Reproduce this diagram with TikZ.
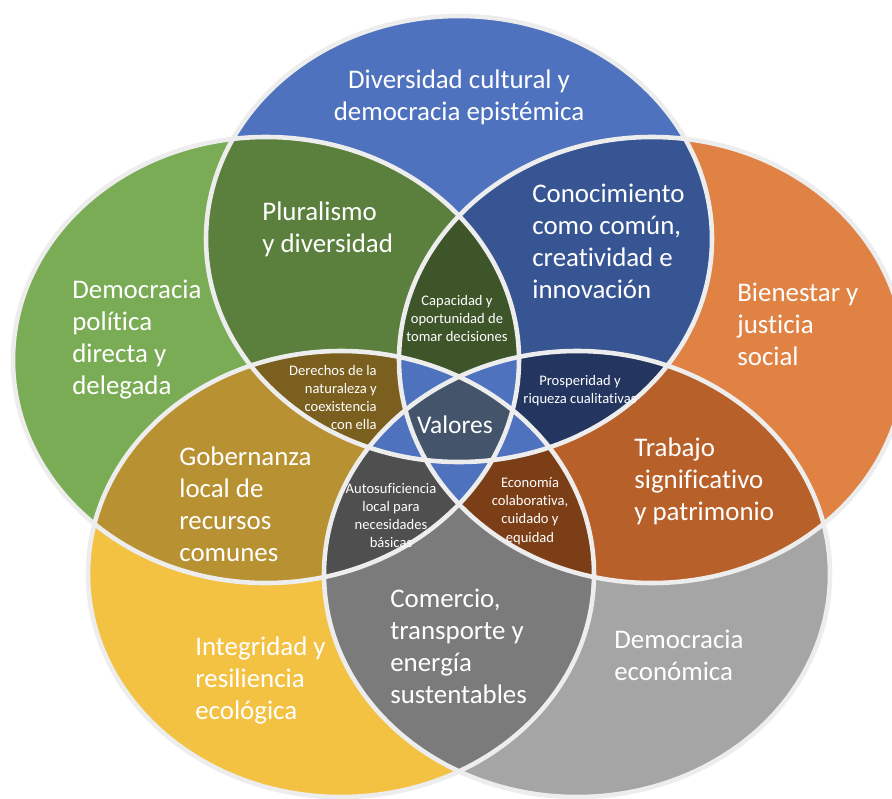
\documentclass[tikz,border=0pt]{standalone}
\usepackage{fontspec}
\setmainfont{Carlito}[Ligatures=NoCommon]
\usepackage{tikz}

\definecolor{cBlue}{HTML}{4E72BE}
\definecolor{cGreen}{HTML}{7AAB55}
\definecolor{cOrange}{HTML}{DF8244}
\definecolor{cYellow}{HTML}{F3C243}
\definecolor{cGrey}{HTML}{A5A5A5}
\definecolor{cBlueGreen}{HTML}{5B7F3D}
\definecolor{cBlueOrange}{HTML}{385593}
\definecolor{cOrangeGrey}{HTML}{B8602A}
\definecolor{cGreyYellow}{HTML}{7B7B7B}
\definecolor{cYellowGreen}{HTML}{B89232}
\definecolor{cCapacidad}{HTML}{3E5429}
\definecolor{cProsperidad}{HTML}{243660}
\definecolor{cEconomia}{HTML}{7B3E17}
\definecolor{cAuto}{HTML}{4F4F4F}
\definecolor{cDerechos}{HTML}{7A5F1E}
\definecolor{cValores}{HTML}{44546A}
\definecolor{cLine}{HTML}{EDEDED}

\def\ellBlue{(459,239) ellipse [x radius=253, y radius=223]}
\def\ellGreen{(266,360) ellipse [x radius=253, y radius=223]}
\def\ellOrange{(652,360) ellipse [x radius=253, y radius=223]}
\def\ellYellow{(341,574) ellipse [x radius=253, y radius=223]}
\def\ellGrey{(577,574) ellipse [x radius=253, y radius=223]}

\tikzset{
  bigtxt/.style={text=white, inner sep=0pt, font=\fontsize{15.3}{18.2}\selectfont},
  smalltxt/.style={text=white, inner sep=0pt, font=\fontsize{8.3}{10.4}\selectfont},
  rim/.style={draw=cLine, line width=2.6pt}
}

\begin{document}
\begin{tikzpicture}[x=0.02cm, y=-0.02cm]
    \useasboundingbox (0,0) rectangle (892,798);
    % one set
    \fill [cBlue] \ellBlue;
    \fill [cGreen] \ellGreen;
    \fill [cOrange] \ellOrange;
    \fill [cYellow] \ellYellow;
    \fill [cGrey] \ellGrey;
    % two sets
    \begin{scope} \clip \ellBlue; \fill [cBlueGreen] \ellGreen; \end{scope}
    \begin{scope} \clip \ellBlue; \fill [cBlueOrange] \ellOrange; \end{scope}
    \begin{scope} \clip \ellOrange; \fill [cOrangeGrey] \ellGrey; \end{scope}
    \begin{scope} \clip \ellGrey; \fill [cGreyYellow] \ellYellow; \end{scope}
    \begin{scope} \clip \ellYellow; \fill [cYellowGreen] \ellGreen; \end{scope}
    % three sets
    \begin{scope} \clip \ellGreen; \clip \ellBlue; \fill [cCapacidad] \ellOrange; \end{scope}
    \begin{scope} \clip \ellBlue; \clip \ellOrange; \fill [cProsperidad] \ellGrey; \end{scope}
    \begin{scope} \clip \ellOrange; \clip \ellGrey; \fill [cEconomia] \ellYellow; \end{scope}
    \begin{scope} \clip \ellGrey; \clip \ellYellow; \fill [cAuto] \ellGreen; \end{scope}
    \begin{scope} \clip \ellYellow; \clip \ellGreen; \fill [cDerechos] \ellBlue; \end{scope}
    % four sets
    \begin{scope} \clip \ellGreen; \clip \ellBlue; \clip \ellOrange; \fill [cBlue] \ellYellow; \end{scope}
    \begin{scope} \clip \ellGreen; \clip \ellBlue; \clip \ellOrange; \fill [cBlue] \ellGrey; \end{scope}
    \begin{scope} \clip \ellBlue; \clip \ellOrange; \clip \ellGrey; \fill [cBlue] \ellYellow; \end{scope}
    \begin{scope} \clip \ellOrange; \clip \ellGrey; \clip \ellYellow; \fill [cBlue] \ellGreen; \end{scope}
    \begin{scope} \clip \ellGrey; \clip \ellYellow; \clip \ellGreen; \fill [cBlue] \ellBlue; \end{scope}
    % five sets
    \begin{scope} \clip \ellGreen; \clip \ellBlue; \clip \ellOrange; \clip \ellGrey; \fill [cValores] \ellYellow; \end{scope}
    % rims
    \draw [rim] \ellBlue;
    \draw [rim] \ellGreen;
    \draw [rim] \ellOrange;
    \draw [rim] \ellYellow;
    \draw [rim] \ellGrey;

    % labels
    \node [bigtxt, align=center] (diversidad) at (459,97.5) {Diversidad cultural y\\democracia epistémica};
    \node [bigtxt, align=left, anchor=west] (pluralismo) at (262,229.5) {Pluralismo\\y diversidad};
    \node [bigtxt, align=left, anchor=west] (conocimiento) at (532,241) {Conocimiento\\como común,\\creatividad e\\innovación};
    \node [bigtxt, align=left, anchor=west] (politica) at (72,340) {Democracia\\política\\directa y\\delegada};
    \node [bigtxt, align=left, anchor=west] (bienestar) at (737,324.5) {Bienestar y\\justicia\\social};
    \node [bigtxt, align=left, anchor=west] (gobernanza) at (179,504.5) {Gobernanza\\local de\\recursos\\comunes};
    \node [bigtxt, align=left, anchor=west] (trabajo) at (634,481.5) {Trabajo\\significativo\\y patrimonio};
    \node [bigtxt, align=left, anchor=west] (comercio) at (390,646.5) {Comercio,\\transporte y\\energía\\sustentables};
    \node [bigtxt, align=left, anchor=west] (integridad) at (195,680.5) {Integridad y\\resiliencia\\ecológica};
    \node [bigtxt, align=left, anchor=west] (economica) at (614,655.5) {Democracia\\económica};
    \node [text=white, inner sep=0pt, font=\fontsize{14.5}{16}\selectfont] (valores) at (455,424.5) {Valores};
    \node [smalltxt, align=center] (capacidad) at (457,318.5) {Capacidad y\\oportunidad de\\tomar decisiones};
    \node [smalltxt, align=right, anchor=east] (derechos) at (377,397.5) {Derechos de la\\naturaleza y\\coexistencia\\con ella};
    \node [smalltxt, align=center] (prosperidad) at (580,390.5) {Prosperidad y\\riqueza cualitativas};
    \node [smalltxt, align=center] (auto) at (391,515.5) {Autosuficiencia\\local para\\necesidades\\básicas};
    \node [smalltxt, align=center] (economia) at (530,511) {Economía\\colaborativa,\\cuidado y\\equidad};
\end{tikzpicture}
\end{document}
